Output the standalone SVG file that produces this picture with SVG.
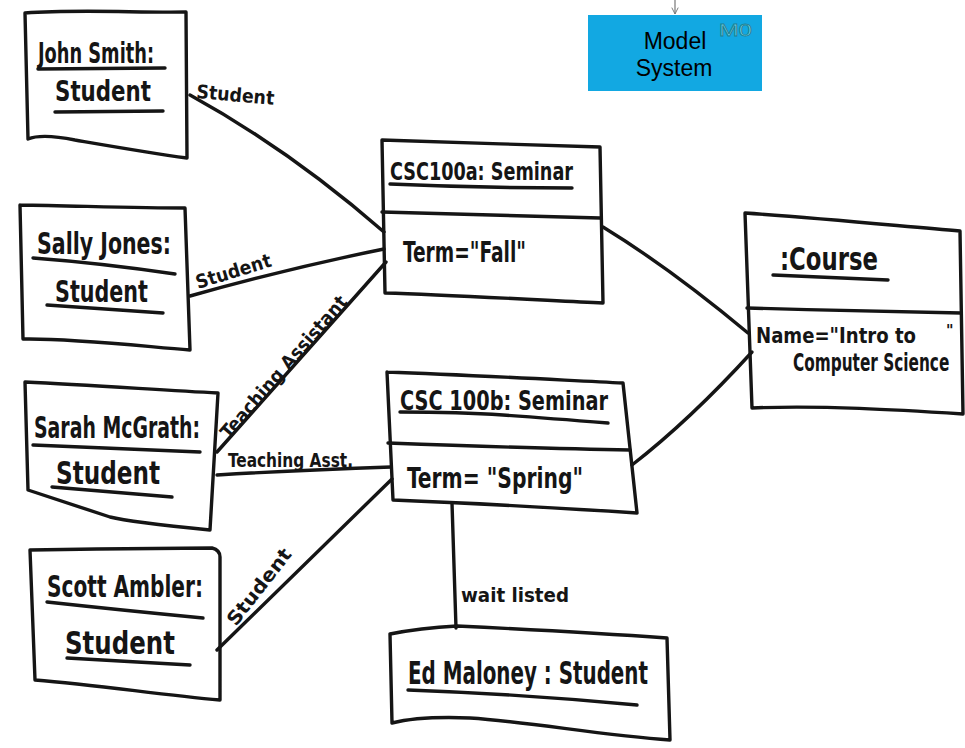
<svg xmlns="http://www.w3.org/2000/svg" width="965" height="748" viewBox="0 0 965 748">
  <defs>
    <style>
      .ink{fill:none;stroke:#151515;stroke-width:3.4;stroke-linecap:round;stroke-linejoin:round}
      .h{font-family:"DejaVu Sans Condensed","Liberation Sans Narrow","Liberation Sans",sans-serif;font-weight:bold;fill:#151515}
      .lbl{font-family:"DejaVu Sans Condensed","Liberation Sans Narrow","Liberation Sans",sans-serif;font-weight:bold;fill:#151515;font-size:19px}
      .sys{font-family:"Liberation Sans",Arial,sans-serif;font-size:23px;fill:#000}
    </style>
    <marker id="openArrow" viewBox="0 0 10 10" refX="9" refY="5" markerWidth="8" markerHeight="8" orient="auto" markerUnits="userSpaceOnUse">
      <path d="M1,1 L9,5 L1,9" fill="none" stroke="#777" stroke-width="1.2"/>
    </marker>
  </defs>

  <rect x="0" y="0" width="965" height="748" fill="#ffffff"/>

  <!-- connectors -->
  <g id="connectors" class="ink">
    <path d="M190,95 Q290,150 384,232"/>
    <path d="M190,296 Q290,268 384,249"/>
    <path d="M217,452 L386,262"/>
    <path d="M217,475 Q300,470 391,467"/>
    <path d="M217,650 L392,479"/>
    <path d="M603,227 Q670,268 748,333"/>
    <path d="M632,465 Q690,420 752,352"/>
    <path d="M452,503 L456,628"/>
  </g>

  <!-- connector labels -->
  <g id="connector-labels">
    <text class="lbl" x="196" y="98" textLength="78" lengthAdjust="spacingAndGlyphs" transform="rotate(5 196 98)">Student</text>
    <text class="lbl" x="198" y="289" textLength="78" lengthAdjust="spacingAndGlyphs" transform="rotate(-17 198 289)">Student</text>
    <text class="lbl" x="229" y="440" textLength="182" lengthAdjust="spacingAndGlyphs" transform="rotate(-49 229 440)">Teaching Assistant</text>
    <text class="lbl" x="228" y="467" textLength="125" lengthAdjust="spacingAndGlyphs">Teaching Asst.</text>
    <text class="lbl" x="236" y="627" textLength="92" lengthAdjust="spacingAndGlyphs" transform="rotate(-52 236 627)">Student</text>
    <text class="lbl" x="461" y="602" textLength="108" lengthAdjust="spacingAndGlyphs">wait listed</text>
  </g>

  <!-- Model System badge -->
  <g id="model-system">
    <line x1="675" y1="0" x2="675" y2="14" stroke="#777" stroke-width="1.2" marker-end="url(#openArrow)"/>
    <rect x="588" y="15" width="174" height="76" fill="#12a8e2"/>
    <text class="sys" x="675" y="49" text-anchor="middle">Model</text>
    <text class="sys" x="674" y="76" text-anchor="middle">System</text>
    <text x="719" y="36" font-family="Liberation Sans,Arial,sans-serif" font-size="17" fill="#7fe3f2" stroke="#1f7f92" stroke-width="0.8" textLength="33" lengthAdjust="spacingAndGlyphs">M0</text>
  </g>

  <!-- John Smith -->
  <g id="john-smith">
    <path class="ink" d="M25,13 C80,9 140,13 186,12 L187,158 C150,153 110,146 75,140 C55,136 38,135 28,139 L25,13"/>
    <text class="h" x="38" y="63" font-size="28" textLength="116" lengthAdjust="spacingAndGlyphs">John Smith:</text>
    <path class="ink" d="M38,69 L165,68"/>
    <text class="h" x="55" y="101" font-size="29" textLength="96" lengthAdjust="spacingAndGlyphs">Student</text>
    <path class="ink" d="M55,112 L163,111"/>
  </g>

  <!-- Sally Jones -->
  <g id="sally-jones">
    <path class="ink" d="M20,205 C80,206 140,208 185,208 L190,350 C140,346 70,338 23,339 L20,205"/>
    <text class="h" x="37" y="254" font-size="30" textLength="134" lengthAdjust="spacingAndGlyphs">Sally Jones:</text>
    <path class="ink" d="M33,258 Q100,263 175,274"/>
    <text class="h" x="55" y="302" font-size="30" textLength="93" lengthAdjust="spacingAndGlyphs">Student</text>
    <path class="ink" d="M47,305 L163,313"/>
  </g>

  <!-- Sarah McGrath -->
  <g id="sarah-mcgrath">
    <path class="ink" d="M25,382 C90,385 160,390 218,393 L210,530 C170,526 130,522 110,517 L28,490 L25,382"/>
    <text class="h" x="34" y="438" font-size="30" textLength="166" lengthAdjust="spacingAndGlyphs">Sarah McGrath:</text>
    <path class="ink" d="M33,445 L200,452"/>
    <text class="h" x="56" y="484" font-size="32" textLength="104" lengthAdjust="spacingAndGlyphs">Student</text>
    <path class="ink" d="M52,487 L172,497"/>
  </g>

  <!-- Scott Ambler -->
  <g id="scott-ambler">
    <path class="ink" d="M30,550 C90,549 170,548 212,548 Q220,550 220,557 L220,700 C160,695 100,685 35,680 L30,550"/>
    <text class="h" x="47" y="597" font-size="31" textLength="156" lengthAdjust="spacingAndGlyphs">Scott Ambler:</text>
    <path class="ink" d="M47,602 Q120,610 203,618"/>
    <text class="h" x="65" y="654" font-size="32" textLength="110" lengthAdjust="spacingAndGlyphs">Student</text>
    <path class="ink" d="M67,658 L190,665"/>
  </g>

  <!-- CSC100a : Seminar -->
  <g id="csc100a">
    <path class="ink" d="M382,140 C450,142 530,145 600,147 L603,303 C540,300 450,295 385,293 L382,140"/>
    <path class="ink" d="M382,212 C450,214 530,216 600,218"/>
    <text class="h" x="390" y="180" font-size="25" textLength="183" lengthAdjust="spacingAndGlyphs">CSC100a: Seminar</text>
    <path class="ink" d="M390,184 Q480,188 572,188"/>
    <text class="h" x="403" y="262" font-size="28" textLength="123" lengthAdjust="spacingAndGlyphs">Term="Fall"</text>
  </g>

  <!-- CSC100b : Seminar -->
  <g id="csc100b">
    <path class="ink" d="M387,372 C470,375 560,380 623,383 L637,513 C560,508 470,503 393,500 L387,372"/>
    <path class="ink" d="M388,443 C470,446 560,449 630,450"/>
    <text class="h" x="400" y="410" font-size="26" textLength="208" lengthAdjust="spacingAndGlyphs">CSC 100b: Seminar</text>
    <path class="ink" d="M400,412 Q460,412 503,415 T608,423"/>
    <text class="h" x="407" y="488" font-size="29" textLength="176" lengthAdjust="spacingAndGlyphs">Term= "Spring"</text>
  </g>

  <!-- :Course -->
  <g id="course">
    <path class="ink" d="M745,213 C820,218 900,226 960,231 L963,414 C900,410 820,405 752,408 L745,213"/>
    <path class="ink" d="M747,308 C820,310 900,312 961,313"/>
    <text class="h" x="780" y="270" font-size="32" textLength="98" lengthAdjust="spacingAndGlyphs">:Course</text>
    <path class="ink" d="M773,275 L888,280"/>
    <text class="h" x="756" y="343" font-size="22" textLength="160" lengthAdjust="spacingAndGlyphs">Name="Intro to</text>
    <text class="h" x="946" y="336" font-size="16">"</text>
    <text class="h" font-size="24" transform="translate(793 371) scale(0.71 1)">Computer Science</text>
  </g>

  <!-- Ed Maloney : Student -->
  <g id="ed-maloney">
    <path class="ink" d="M390,634 Q420,628 457,626 C540,630 610,634 667,638 L670,740 C600,735 530,722 470,718 Q420,716 392,723 L390,634"/>
    <text class="h" x="408" y="684" font-size="32" textLength="240" lengthAdjust="spacingAndGlyphs">Ed Maloney : Student</text>
    <path class="ink" d="M408,690 Q520,694 637,705"/>
  </g>
</svg>
